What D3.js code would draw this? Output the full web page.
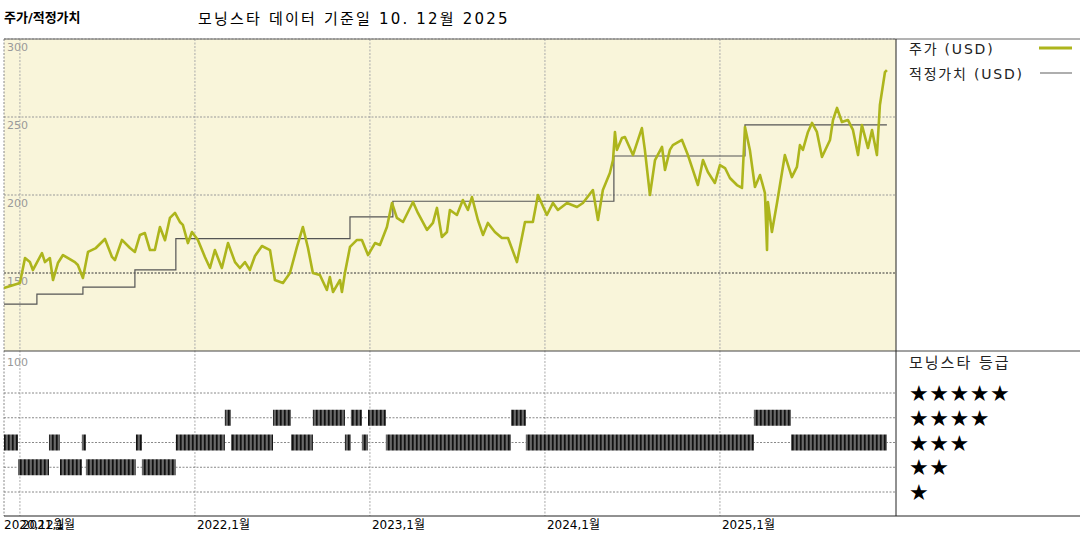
<!DOCTYPE html>
<html><head><meta charset="utf-8">
<script src="https://cdn.jsdelivr.net/npm/d3@7"></script>
<style>body{margin:0;background:#fff}svg{display:block;font-family:"DejaVu Sans","Noto Sans CJK KR",sans-serif}</style>
</head><body><svg id="c" width="1080" height="540"></svg>
<script>
const priceData = [[2020.909,140.4],[2021.0,143.6],[2021.029,159.6],[2021.057,157],[2021.074,151.9],[2021.126,162.8],[2021.143,157],[2021.171,159.6],[2021.189,145.5],[2021.217,156.4],[2021.246,161.5],[2021.314,157],[2021.331,155.1],[2021.36,146.8],[2021.389,163.5],[2021.434,166],[2021.486,171.8],[2021.526,160.3],[2021.543,158.3],[2021.583,171.2],[2021.629,166],[2021.657,163.5],[2021.686,174.4],[2021.714,175.6],[2021.743,164.7],[2021.771,164.7],[2021.8,179.5],[2021.829,171],[2021.857,185.3],[2021.886,188.5],[2021.914,182.7],[2021.931,180.8],[2021.96,169.2],[2021.983,176.3],[2022.017,171.2],[2022.057,160.3],[2022.086,153.2],[2022.114,164.7],[2022.154,153.2],[2022.189,169.2],[2022.229,157],[2022.257,153.2],[2022.286,157],[2022.314,151.9],[2022.343,160.9],[2022.383,167.3],[2022.429,164.7],[2022.457,145.5],[2022.503,143.6],[2022.543,150],[2022.583,166.7],[2022.617,179.5],[2022.646,166],[2022.674,150],[2022.714,148.7],[2022.754,139.1],[2022.771,147.4],[2022.789,137.8],[2022.829,145.5],[2022.84,137.8],[2022.857,150],[2022.886,166.7],[2022.926,171.2],[2022.954,171.2],[2022.989,161.5],[2023.029,169.2],[2023.057,168],[2023.097,179.5],[2023.126,194.9],[2023.154,185.3],[2023.189,182.7],[2023.246,195.5],[2023.274,188.5],[2023.326,177.6],[2023.36,182.1],[2023.383,191.7],[2023.411,173.1],[2023.44,176.3],[2023.457,190.4],[2023.497,187.2],[2023.531,196.8],[2023.56,190.4],[2023.583,198.7],[2023.617,184],[2023.646,174.4],[2023.674,182.1],[2023.714,176.3],[2023.754,172.4],[2023.789,172.4],[2023.84,157],[2023.886,182.7],[2023.931,182.7],[2023.96,200],[2024.011,187.2],[2024.046,194.9],[2024.074,190.4],[2024.126,194.9],[2024.183,192.3],[2024.217,194.9],[2024.274,203.2],[2024.303,184],[2024.331,203.2],[2024.371,214.1],[2024.389,222.4],[2024.4,240.4],[2024.411,228.9],[2024.44,236.5],[2024.457,237.2],[2024.503,225.6],[2024.554,242.9],[2024.571,228.9],[2024.6,200],[2024.629,222.4],[2024.669,230.8],[2024.686,216],[2024.714,228.9],[2024.731,232],[2024.783,235.3],[2024.817,225.6],[2024.874,206.4],[2024.903,222.4],[2024.931,214.7],[2024.971,207.7],[2025.0,219.2],[2025.029,217.3],[2025.057,210.9],[2025.097,206.4],[2025.126,204.5],[2025.143,243.6],[2025.171,228.9],[2025.2,205.1],[2025.229,212.8],[2025.257,201.3],[2025.269,164.7],[2025.274,195.5],[2025.297,176.3],[2025.326,194.9],[2025.371,225.6],[2025.411,211.5],[2025.44,218],[2025.457,232],[2025.474,228.9],[2025.503,240.4],[2025.526,246.2],[2025.554,240.4],[2025.583,224.4],[2025.629,235.3],[2025.646,248.1],[2025.669,255.8],[2025.697,246.8],[2025.731,248.1],[2025.76,241.7],[2025.789,225.6],[2025.811,244.9],[2025.846,230.1],[2025.869,241.7],[2025.897,225.6],[2025.914,257.7],[2025.943,278.8],[2025.954,280.1]];
const fairData = [[2020.909,130],[2021.097,136.5],[2021.36,141],[2021.657,152],[2021.891,172],[2022.886,186],[2023.131,196],[2024.394,225],[2025.143,245],[2025.954,245]];
const ratingData = [[2020.909,2020.989,3],[2020.989,2021.166,2],[2021.166,2021.229,3],[2021.229,2021.354,2],[2021.354,2021.377,3],[2021.377,2021.663,2],[2021.663,2021.697,3],[2021.697,2021.891,2],[2021.891,2022.171,3],[2022.171,2022.206,4],[2022.206,2022.446,3],[2022.446,2022.549,4],[2022.549,2022.674,3],[2022.674,2022.857,4],[2022.857,2022.891,3],[2022.891,2022.954,4],[2022.954,2022.989,3],[2022.989,2023.091,4],[2023.091,2023.806,3],[2023.806,2023.891,4],[2023.891,2025.194,3],[2025.194,2025.406,4],[2025.406,2025.954,3]];
const yTicks = [300,250,200,150];
const xTickYears = [2021,2022,2023,2024,2025];
const xTickLabels = ["2021,1월","2022,1월","2023,1월","2024,1월","2025,1월"];
const starLabels = ["★★★★★","★★★★","★★★","★★","★"];

const svg = d3.select("#c");
const L=4, R=896, T=39, M=351, B=516;
const x = d3.scaleLinear().domain([2020.909,2026.006]).range([L,R]);
const y = d3.scaleLinear().domain([100,300]).range([M,T]);
const yr = d3.scalePoint().domain([5,4,3,2,1]).range([393,492]);

const defs = svg.append("defs");
const pat = defs.append("pattern").attr("id","stripe").attr("patternUnits","userSpaceOnUse").attr("width",4).attr("height",16);
pat.append("rect").attr("width",4).attr("height",16).attr("fill","#4a4a4a");
pat.append("rect").attr("width",1.5).attr("height",16).attr("fill","#111");
pat.append("rect").attr("x",2.5).attr("width",0.8).attr("height",16).attr("fill","#888");

svg.append("rect").attr("x",L).attr("y",T).attr("width",R-L).attr("height",M-T).attr("fill","#f9f5da");

const g = svg.append("g");
yTicks.forEach(v=>{
  g.append("line").attr("x1",L).attr("x2",R).attr("y1",y(v)).attr("y2",y(v))
   .attr("stroke",v===150?"#333":"#999").attr("stroke-dasharray","2,1.5").attr("stroke-width",1);
});
xTickYears.forEach(t=>{
  g.append("line").attr("x1",x(t)).attr("x2",x(t)).attr("y1",T).attr("y2",B).attr("stroke","#aaa").attr("stroke-dasharray","2,1.5");
});
[5,4,3,2,1].forEach(r=>{
  g.append("line").attr("x1",L).attr("x2",R).attr("y1",yr(r)).attr("y2",yr(r)).attr("stroke","#888").attr("stroke-dasharray","2,1.5");
});
g.append("line").attr("x1",L).attr("x2",L).attr("y1",T).attr("y2",B).attr("stroke","#888").attr("stroke-dasharray","2,1.5");

yTicks.forEach(v=>{
  svg.append("text").attr("x",7).attr("y",y(v)+12).attr("font-size",11).attr("fill","#999").text(v);
});
svg.append("text").attr("x",7).attr("y",M+15).attr("font-size",11).attr("fill","#999").text("100");

svg.append("path").datum(fairData).attr("fill","none").attr("stroke","#555").attr("stroke-width",1.2)
  .attr("d",d3.line().x(d=>x(d[0])).y(d=>y(d[1])).curve(d3.curveStepAfter));
svg.append("path").datum(priceData).attr("fill","none").attr("stroke","#adb51c").attr("stroke-width",2.6).attr("stroke-linejoin","round")
  .attr("d",d3.line().x(d=>x(d[0])).y(d=>y(d[1])));

svg.append("g").selectAll("rect").data(ratingData).join("rect")
  .attr("x",d=>x(d[0])).attr("width",d=>x(d[1])-x(d[0])).attr("y",d=>yr(d[2])-8).attr("height",16).attr("fill","url(#stripe)");

svg.append("line").attr("x1",L).attr("x2",1080).attr("y1",T).attr("y2",T).attr("stroke","#666");
svg.append("line").attr("x1",L).attr("x2",1080).attr("y1",M).attr("y2",M).attr("stroke","#444");
svg.append("line").attr("x1",L).attr("x2",1080).attr("y1",B).attr("y2",B).attr("stroke","#222");
svg.append("line").attr("x1",R).attr("x2",R).attr("y1",T).attr("y2",B).attr("stroke","#222");

svg.append("text").attr("x",4).attr("y",529).attr("font-size",12).text("2020,12월");
xTickYears.forEach((t,i)=>{
  svg.append("text").attr("x",x(t)+2).attr("y",529).attr("font-size",12).text(xTickLabels[i]);
});

svg.append("text").attr("x",4).attr("y",22).attr("font-size",13).attr("font-weight","bold").text("주가/적정가치");
svg.append("text").attr("x",198).attr("y",24).attr("font-size",15).attr("letter-spacing",2.2).text("모닝스타 데이터 기준일 10. 12월 2025");

svg.append("text").attr("x",909).attr("y",54).attr("font-size",14).attr("letter-spacing",1.8).attr("fill","#222").text("주가 (USD)");
svg.append("line").attr("x1",1039).attr("x2",1072).attr("y1",48).attr("y2",48).attr("stroke","#adb51c").attr("stroke-width",3);
svg.append("text").attr("x",909).attr("y",79).attr("font-size",14).attr("letter-spacing",1.8).attr("fill","#222").text("적정가치 (USD)");
svg.append("line").attr("x1",1040).attr("x2",1072).attr("y1",73).attr("y2",73).attr("stroke","#777").attr("stroke-width",1.2);
svg.append("text").attr("x",909).attr("y",368).attr("font-size",15).attr("letter-spacing",2).attr("fill","#222").text("모닝스타 등급");
starLabels.forEach((s,i)=>{
  svg.append("text").attr("x",909).attr("y",yr(5-i)+8).attr("font-size",22).attr("letter-spacing",0.5).text(s);
});
</script></body></html>
